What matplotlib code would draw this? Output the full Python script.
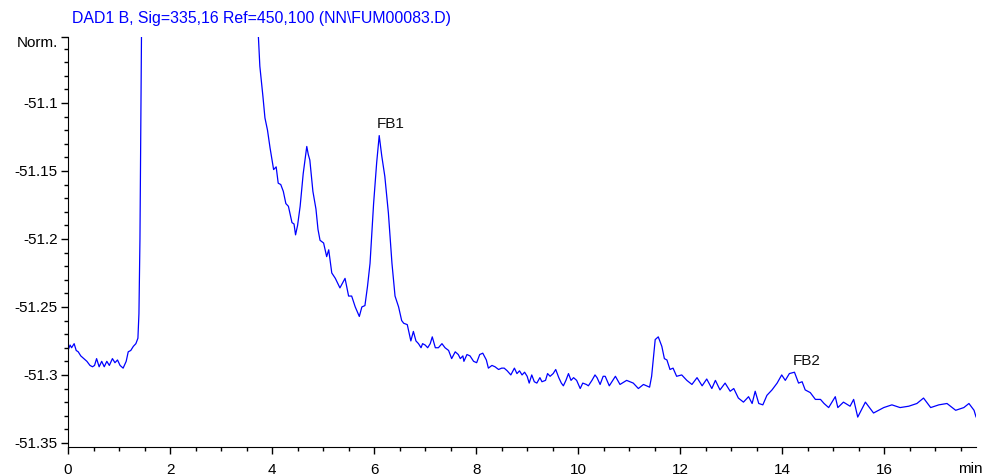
import numpy as np
import matplotlib
matplotlib.use('Agg')
import matplotlib.pyplot as plt
from matplotlib.ticker import MultipleLocator

plt.rcParams['font.family'] = ['Liberation Sans', 'DejaVu Sans']

title = 'DAD1 B, Sig=335,16 Ref=450,100 (NN\\FUM00083.D)'

# retention time (min) and signal (Norm.)
time = [0.00, 0.04, 0.07, 0.12, 0.16, 0.20, 0.25, 0.31, 0.37, 0.43, 0.48, 0.52,
        0.56, 0.61, 0.66, 0.71, 0.76, 0.81, 0.87, 0.92, 0.97, 1.02, 1.08, 1.14,
        1.18, 1.23, 1.28, 1.33, 1.37, 1.39, 1.41, 1.43, 1.45, 1.50, 1.70, 2.50,
        3.50, 3.70, 3.73, 3.76, 3.82, 3.86, 3.91, 3.96, 4.03, 4.08, 4.12, 4.17,
        4.22, 4.27, 4.32, 4.39, 4.43, 4.46, 4.50, 4.55, 4.61, 4.68, 4.71, 4.74,
        4.80, 4.86, 4.90, 4.94, 5.01, 5.07, 5.11, 5.17, 5.24, 5.33, 5.43, 5.50,
        5.56, 5.63, 5.71, 5.76, 5.82, 5.87, 5.92, 5.99, 6.05, 6.10, 6.15, 6.21,
        6.28, 6.35, 6.41, 6.48, 6.54, 6.58, 6.65, 6.72, 6.77, 6.82, 6.87, 6.92,
        6.95, 7.00, 7.05, 7.10, 7.14, 7.20, 7.26, 7.33, 7.39, 7.46, 7.52, 7.59,
        7.65, 7.69, 7.74, 7.76, 7.82, 7.88, 7.95, 8.01, 8.07, 8.13, 8.20, 8.24,
        8.31, 8.37, 8.44, 8.50, 8.55, 8.61, 8.68, 8.75, 8.80, 8.85, 8.90, 8.95,
        9.00, 9.04, 9.09, 9.14, 9.19, 9.25, 9.29, 9.36, 9.40, 9.45, 9.51, 9.56,
        9.62, 9.67, 9.71, 9.76, 9.81, 9.86, 9.91, 9.97, 10.04, 10.09, 10.16, 10.20,
        10.27, 10.33, 10.37, 10.43, 10.49, 10.53, 10.61, 10.73, 10.82, 10.95, 11.08, 11.18,
        11.28, 11.40, 11.44, 11.51, 11.57, 11.64, 11.69, 11.74, 11.80, 11.86, 11.93, 12.03,
        12.13, 12.23, 12.33, 12.43, 12.52, 12.62, 12.69, 12.78, 12.88, 12.98, 13.05, 13.14,
        13.24, 13.34, 13.41, 13.47, 13.54, 13.62, 13.70, 13.80, 13.90, 13.99, 14.06, 14.14,
        14.24, 14.32, 14.39, 14.45, 14.55, 14.65, 14.75, 14.82, 14.91, 15.04, 15.09, 15.20,
        15.33, 15.40, 15.48, 15.63, 15.79, 15.99, 16.15, 16.31, 16.48, 16.64, 16.77, 16.91,
        17.07, 17.23, 17.40, 17.56, 17.66, 17.76, 17.80, 17.82]
signal = [-51.282, -51.278, -51.280, -51.277, -51.282, -51.283, -51.286, -51.288, -51.290, -51.293, -51.294, -51.293,
          -51.288, -51.294, -51.290, -51.294, -51.290, -51.293, -51.288, -51.291, -51.289, -51.293, -51.295, -51.290,
          -51.283, -51.282, -51.279, -51.277, -51.273, -51.255, -51.200, -51.100, -51.000, -50.700, -50.550, -50.850,
          -51.020, -51.048, -51.050, -51.073, -51.095, -51.111, -51.120, -51.133, -51.149, -51.147, -51.159, -51.160,
          -51.165, -51.174, -51.176, -51.188, -51.189, -51.197, -51.190, -51.176, -51.152, -51.132, -51.138, -51.142,
          -51.165, -51.178, -51.193, -51.201, -51.203, -51.213, -51.208, -51.225, -51.229, -51.236, -51.229, -51.242,
          -51.242, -51.250, -51.257, -51.250, -51.249, -51.235, -51.218, -51.174, -51.144, -51.124, -51.139, -51.154,
          -51.181, -51.218, -51.242, -51.250, -51.260, -51.262, -51.263, -51.275, -51.268, -51.275, -51.277, -51.280,
          -51.277, -51.278, -51.280, -51.277, -51.272, -51.280, -51.280, -51.277, -51.280, -51.282, -51.288, -51.283,
          -51.285, -51.288, -51.286, -51.290, -51.285, -51.286, -51.290, -51.291, -51.285, -51.284, -51.289, -51.295,
          -51.293, -51.294, -51.296, -51.295, -51.295, -51.297, -51.300, -51.295, -51.299, -51.297, -51.300, -51.298,
          -51.301, -51.306, -51.300, -51.305, -51.306, -51.302, -51.305, -51.304, -51.299, -51.301, -51.299, -51.296,
          -51.302, -51.306, -51.308, -51.304, -51.299, -51.304, -51.302, -51.304, -51.310, -51.306, -51.307, -51.308,
          -51.304, -51.300, -51.302, -51.307, -51.301, -51.301, -51.308, -51.301, -51.307, -51.304, -51.306, -51.310,
          -51.307, -51.309, -51.301, -51.274, -51.272, -51.279, -51.288, -51.289, -51.296, -51.295, -51.301, -51.300,
          -51.304, -51.307, -51.302, -51.308, -51.303, -51.310, -51.304, -51.311, -51.306, -51.312, -51.310, -51.317,
          -51.320, -51.316, -51.321, -51.312, -51.321, -51.322, -51.315, -51.311, -51.306, -51.300, -51.304, -51.299,
          -51.298, -51.306, -51.305, -51.311, -51.313, -51.318, -51.318, -51.321, -51.324, -51.316, -51.324, -51.320,
          -51.323, -51.318, -51.331, -51.320, -51.328, -51.324, -51.322, -51.324, -51.323, -51.321, -51.317, -51.324,
          -51.322, -51.321, -51.326, -51.324, -51.321, -51.326, -51.331, -51.328]

peak_names = ['FB1', 'FB2']
peak_time = [6.10, 14.24]
peak_signal = [-51.124, -51.298]

yticks = [-51.35, -51.3, -51.25, -51.2, -51.15, -51.1]
ytick_labels = ['-51.35', '-51.3', '-51.25', '-51.2', '-51.15', '-51.1']
xticks = [0, 2, 4, 6, 8, 10, 12, 14, 16]

y_top = -51.0515
y_bot = -51.353

fig = plt.figure(figsize=(9.96, 4.76), dpi=100)
ax = fig.add_axes([0.0683, 0.0609, 0.9117, 0.8614])

ax.plot(time, signal, color='#0000ff', lw=0.9)

for name, t, s in zip(peak_names, peak_time, peak_signal):
    ax.annotate(name, xy=(t, s), xytext=(-1.5, 3), textcoords='offset points',
                ha='left', va='bottom', fontsize=11, color='#111111')

ax.set_xlim(0, 17.8)
ax.set_ylim(y_bot, y_top)

ax.spines['top'].set_visible(False)
ax.spines['right'].set_visible(False)

ax.set_xticks(xticks)
ax.xaxis.set_minor_locator(MultipleLocator(0.5))
ax.set_yticks(yticks + [y_top])
ax.set_yticklabels(ytick_labels + [''])
ax.yaxis.set_minor_locator(MultipleLocator(0.01))

ax.tick_params(axis='both', which='major', direction='out', length=4.8, width=1,
               labelsize=11, colors='black')
ax.tick_params(axis='both', which='minor', direction='out', length=3, width=1)
ax.tick_params(axis='x', which='major', pad=6.5)
ax.tick_params(axis='y', which='major', pad=2.5)

ax.text(-0.0115, 0.985, 'Norm.', transform=ax.transAxes, ha='right', va='center',
        fontsize=11)
fig.text(983 / 996, 1 - 469 / 476, 'min', ha='right', va='center', fontsize=11)
fig.text(72 / 996, 1 - 18 / 476, title, ha='left', va='center', fontsize=11.4,
         color='#0000ff')

fig.savefig('out.png', dpi=100)
